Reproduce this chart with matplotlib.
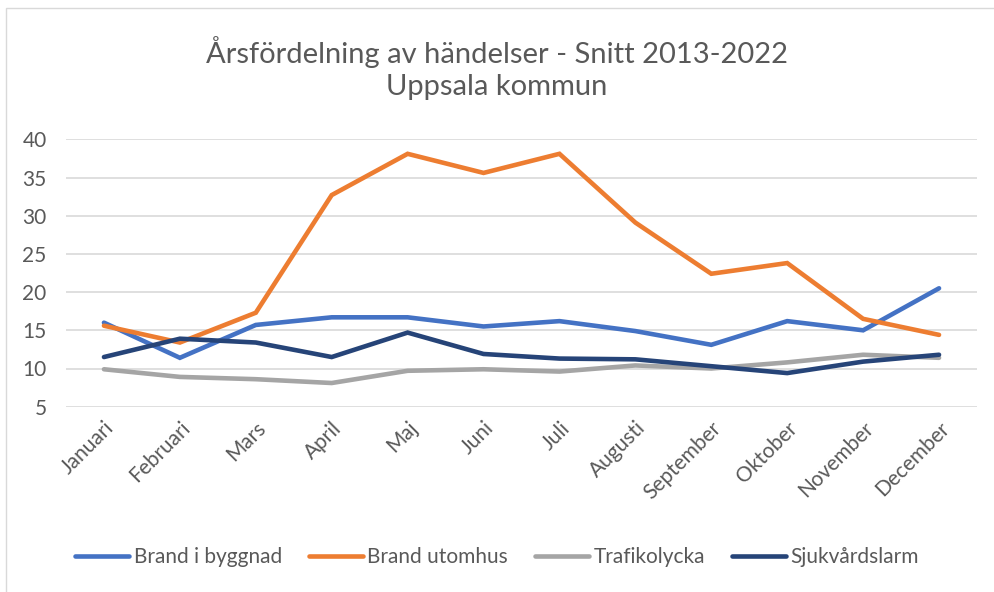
import matplotlib
matplotlib.use('Agg')
import matplotlib.pyplot as plt
from matplotlib.patches import Rectangle

months = ['Januari', 'Februari', 'Mars', 'April', 'Maj', 'Juni', 'Juli',
          'Augusti', 'September', 'Oktober', 'November', 'December']

brand_byggnad = [16.0, 11.4, 15.7, 16.7, 16.7, 15.5, 16.2, 14.9, 13.1, 16.2, 15.0, 20.5]
brand_utomhus = [15.6, 13.4, 17.3, 32.7, 38.1, 35.6, 38.1, 29.1, 22.4, 23.8, 16.5, 14.4]
trafikolycka = [9.9, 8.9, 8.6, 8.1, 9.7, 9.9, 9.6, 10.4, 10.0, 10.8, 11.8, 11.4]
sjukvardslarm = [11.5, 13.9, 13.4, 11.5, 14.7, 11.9, 11.3, 11.2, 10.3, 9.4, 10.9, 11.8]

series_names = ['Brand i byggnad', 'Brand utomhus', 'Trafikolycka', 'Sjukvårdslarm']
series_colors = ['#4472C4', '#ED7D31', '#A5A5A5', '#264478']
yticks = [5, 10, 15, 20, 25, 30, 35, 40]

plt.rcParams['font.family'] = ['Lato', 'DejaVu Sans']
text_col = '#595959'

W, H = 994, 592
fig = plt.figure(figsize=(W / 100, H / 100), dpi=100)
fig.patch.set_facecolor('white')

# chart-area border (top/left visible, runs off the image on the other sides)
fig.patches.append(Rectangle((6 / W, -0.05), 1.1, 1 - 8 / H + 0.05,
                             transform=fig.transFigure, fill=False,
                             edgecolor='#D9D9D9', lw=1.0))

left, right = 66 / W, 977 / W
top, bottom = 1 - 139.3 / H, 1 - 406.7 / H
ax = fig.add_axes([left, bottom, right - left, top - bottom])

x = list(range(len(months)))
for vals, name, col in zip([brand_byggnad, brand_utomhus, trafikolycka, sjukvardslarm],
                           series_names, series_colors):
    ax.plot(x, vals, color=col, lw=3.3, label=name, solid_capstyle='round',
            solid_joinstyle='miter')

ax.set_xlim(-0.5, len(months) - 0.5)
ax.set_ylim(5, 40)
ax.set_yticks(yticks)
ax.set_xticks(x)
ax.set_xticklabels(months, rotation=45, ha='right', va='top',
                   rotation_mode='anchor', fontsize=15, color=text_col)
ax.tick_params(axis='y', labelsize=15, labelcolor=text_col, length=0, pad=14)
ax.tick_params(axis='x', length=0, pad=8)
ax.grid(axis='y', color='#D9D9D9', lw=1.2)
ax.set_axisbelow(True)
for s in ax.spines.values():
    s.set_visible(False)

fig.text(0.5, 1 - 68 / H, 'Årsfördelning av händelser - Snitt 2013-2022\nUppsala kommun',
         ha='center', va='center', fontsize=21, color=text_col,
         linespacing=1.3)

fig.legend(loc='center', bbox_to_anchor=(0.5, 1 - 557 / H), ncol=4, frameon=False,
           fontsize=15, labelcolor=text_col, handlelength=2.6, handletextpad=0.2,
           columnspacing=1.3)

fig.savefig('out.png', dpi=100)
